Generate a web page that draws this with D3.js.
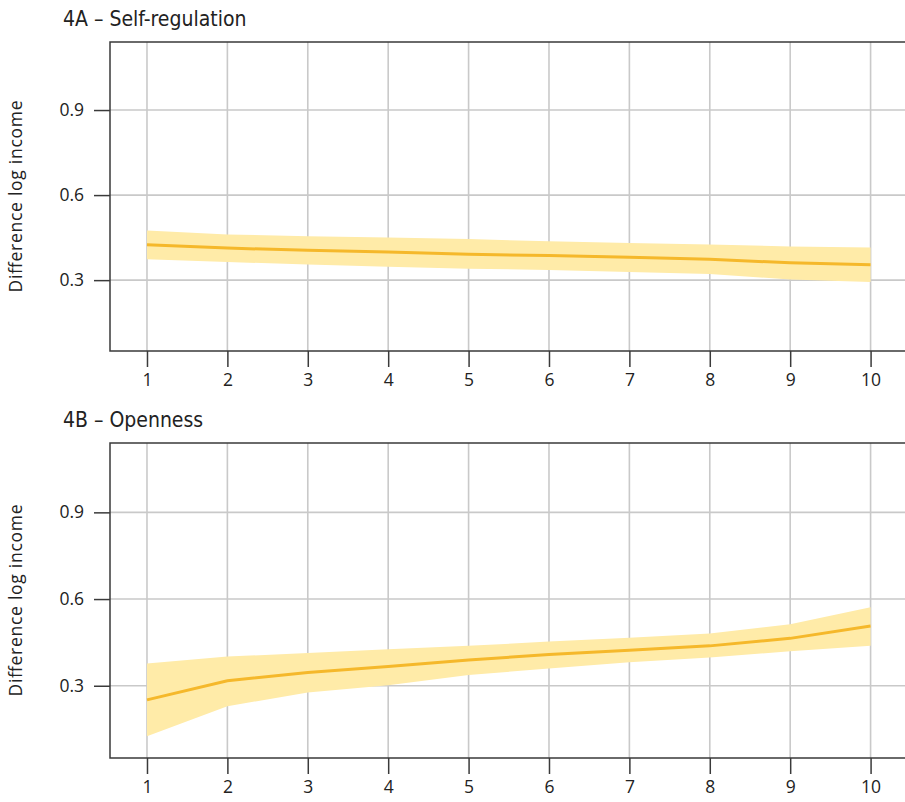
<!DOCTYPE html>
<html>
<head>
<meta charset="utf-8">
<script src="https://cdn.jsdelivr.net/npm/d3@7"></script>
<style>
  html, body { margin: 0; padding: 0; background: #fff; }
  svg { display: block; }
  .tick text { font-family: "Open Sans", sans-serif; font-size: 17.5px; fill: #222; }
</style>
</head>
<body>
<svg id="chart" width="905" height="802"></svg>
<script>
// Income-decile positions on the x axis
const deciles = [1, 2, 3, 4, 5, 6, 7, 8, 9, 10];

// 4A – Self-regulation: estimated difference in log income with confidence band
const selfRegFit   = [0.425, 0.413, 0.405, 0.399, 0.391, 0.387, 0.381, 0.374, 0.361, 0.354];
const selfRegUpper = [0.475, 0.461, 0.455, 0.450, 0.445, 0.437, 0.431, 0.426, 0.419, 0.415];
const selfRegLower = [0.374, 0.364, 0.355, 0.347, 0.340, 0.336, 0.329, 0.322, 0.302, 0.293];

// 4B – Openness
const openFit   = [0.251, 0.317, 0.346, 0.367, 0.389, 0.408, 0.423, 0.438, 0.464, 0.507];
const openUpper = [0.377, 0.401, 0.413, 0.426, 0.438, 0.453, 0.466, 0.481, 0.513, 0.572];
const openLower = [0.125, 0.229, 0.277, 0.302, 0.337, 0.360, 0.381, 0.398, 0.419, 0.438];

const yTicks = [0.3, 0.6, 0.9];
const panelTitles = ["4A \u2013 Self-regulation", "4B \u2013 Openness"];
const yAxisTitle = "Difference log income";

const panels = [
  { title: panelTitles[0], fit: selfRegFit, lo: selfRegLower, hi: selfRegUpper, top: 42, bottom: 351 },
  { title: panelTitles[1], fit: openFit, lo: openLower, hi: openUpper, top: 443, bottom: 758 }
];

const svg = d3.select("#chart");
const left = 110, right = 905;
const lineColor = "#f5b82b", bandColor = "#ffeba8", gridColor = "#c9c9c9", axisColor = "#3a3a3a";

const x = d3.scaleLinear().domain([0.54, 10.5]).range([left, left + 9.96 * 80.4]);

panels.forEach(p => {
  const y = d3.scaleLinear().domain([0.05, 1.14]).range([p.bottom, p.top]);
  const g = svg.append("g");

  // grid
  g.append("g").selectAll("line.v").data(deciles).join("line")
    .attr("x1", d => x(d)).attr("x2", d => x(d))
    .attr("y1", p.top).attr("y2", p.bottom)
    .attr("stroke", gridColor).attr("stroke-width", 1.6);
  g.append("g").selectAll("line.h").data(yTicks).join("line")
    .attr("x1", left).attr("x2", right)
    .attr("y1", d => y(d)).attr("y2", d => y(d))
    .attr("stroke", gridColor).attr("stroke-width", 1.6);

  // confidence band
  const rows = deciles.map((d, i) => ({ d, fit: p.fit[i], lo: p.lo[i], hi: p.hi[i] }));
  g.append("path").datum(rows)
    .attr("fill", bandColor)
    .attr("d", d3.area().x(r => x(r.d)).y0(r => y(r.lo)).y1(r => y(r.hi)));

  // estimate line
  g.append("path").datum(rows)
    .attr("fill", "none").attr("stroke", lineColor).attr("stroke-width", 3)
    .attr("d", d3.line().x(r => x(r.d)).y(r => y(r.fit)));

  // frame: top border, left and bottom axis lines
  g.append("path")
    .attr("d", `M${right},${p.top}H${left}V${p.bottom}H${right}`)
    .attr("fill", "none").attr("stroke", axisColor).attr("stroke-width", 1.5);

  // x axis
  const xa = g.append("g").attr("transform", `translate(0,${p.bottom})`)
    .call(d3.axisBottom(x).tickValues(deciles).tickSize(16).tickPadding(7).tickFormat(d3.format("d")));
  xa.select(".domain").remove();
  xa.selectAll(".tick line").attr("stroke", axisColor).attr("stroke-width", 1.5);

  // y axis
  const ya = g.append("g").attr("transform", `translate(${left},0)`)
    .call(d3.axisLeft(y).tickValues(yTicks).tickSize(16).tickPadding(10).tickFormat(d3.format(".1f")));
  ya.select(".domain").remove();
  ya.selectAll(".tick line").attr("stroke", axisColor).attr("stroke-width", 1.5);

  // panel title
  g.append("text")
    .attr("x", 63).attr("y", p.top - 16)
    .attr("font-family", "'Liberation Sans Narrow', 'DejaVu Sans Condensed', sans-serif")
    .attr("font-size", 21).attr("fill", "#222")
    .text(p.title);

  // y axis title
  g.append("text")
    .attr("transform", `translate(22,${(p.top + p.bottom) / 2}) rotate(-90)`)
    .attr("text-anchor", "middle")
    .attr("font-family", "'Open Sans', sans-serif")
    .attr("font-size", 17.5).attr("fill", "#222")
    .attr("textLength", 192).attr("lengthAdjust", "spacing")
    .text(yAxisTitle);
});
</script>
</body>
</html>
